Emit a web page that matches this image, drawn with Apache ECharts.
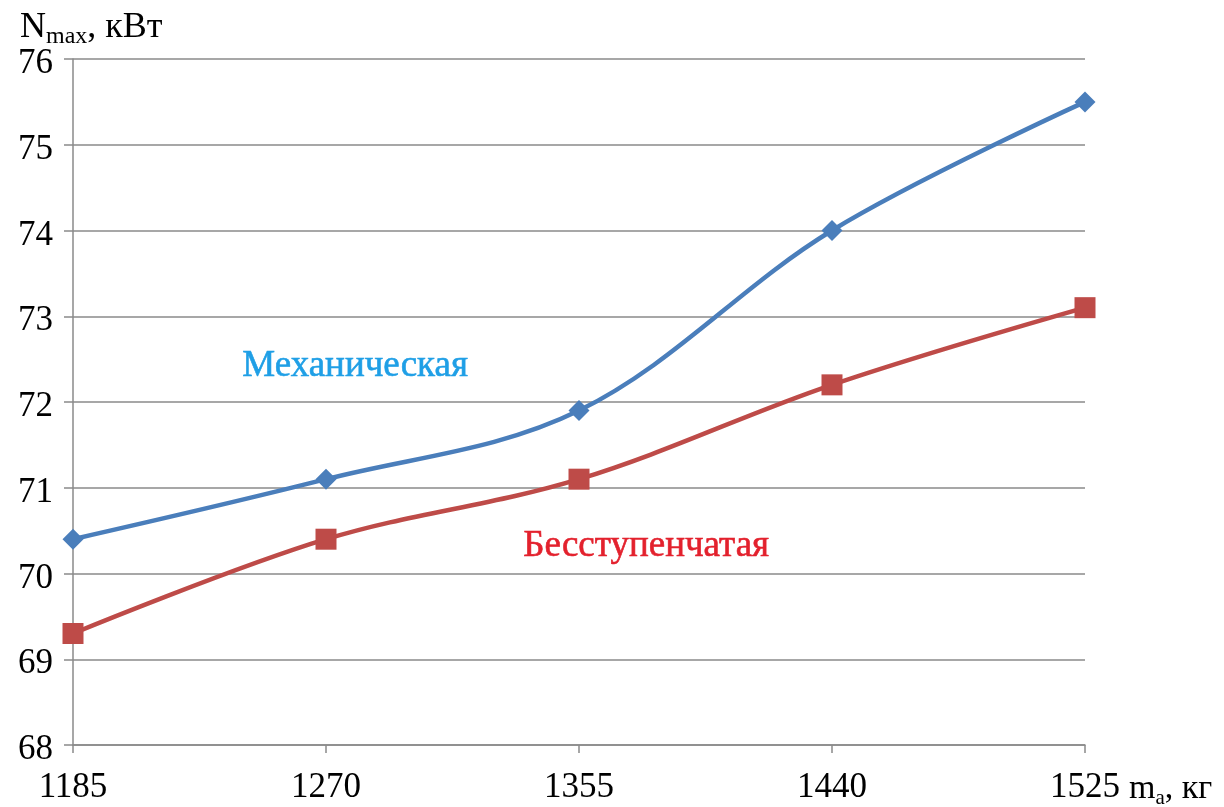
<!DOCTYPE html>
<html>
<head>
<meta charset="utf-8">
<script src="https://cdn.jsdelivr.net/npm/echarts@6/dist/echarts.min.js"></script>
<style>
  html, body { margin: 0; padding: 0; background: #ffffff; }
  #chart { width: 1224px; height: 807px; }
</style>
</head>
<body>
<div id="chart"></div>
<script>
// Vehicle mass, kg
const massLabels = ['1185', '1270', '1355', '1440', '1525'];
// Maximum power, kW
const mechanicalPower = [70.4, 71.1, 71.9, 74.0, 75.5];
const steplessPower = [69.3, 70.4, 71.1, 72.2, 73.1];
const yTicks = { min: 68, max: 76, interval: 1 };

const FONT = '"Liberation Serif", "DejaVu Serif", serif';
const GRID_GRAY = '#8a8a8a';

const chart = echarts.init(document.getElementById('chart'), null, { renderer: 'canvas' });

chart.setOption({
  backgroundColor: '#ffffff',
  animation: false,
  grid: { left: 73, right: 139, top: 59, bottom: 62, containLabel: false },
  xAxis: {
    type: 'category',
    data: massLabels,
    boundaryGap: false,
    axisLine: { lineStyle: { color: GRID_GRAY, width: 1.5 } },
    axisTick: { show: true, length: 8, alignWithLabel: true, lineStyle: { color: GRID_GRAY, width: 1.5 } },
    axisLabel: { fontFamily: FONT, fontSize: 35, color: '#000', margin: 25 },
    splitLine: { show: false }
  },
  yAxis: {
    type: 'value',
    min: yTicks.min,
    max: yTicks.max,
    interval: yTicks.interval,
    axisLine: { show: true, lineStyle: { color: GRID_GRAY, width: 1.5 } },
    axisTick: { show: true, length: 9, lineStyle: { color: GRID_GRAY, width: 1.5 } },
    axisLabel: {
      margin: 20,
      formatter: (v) => '{t|' + v + '}',
      rich: {
        t: { fontFamily: FONT, fontSize: 35, color: '#000', padding: [10, 0, 0, 0] }
      }
    },
    splitLine: { show: true, lineStyle: { color: GRID_GRAY, width: 1.5 } }
  },
  series: [
    {
      name: 'Механическая',
      type: 'line',
      data: mechanicalPower,
      smooth: 0.35,
      symbol: 'diamond',
      symbolSize: 21,
      lineStyle: { color: '#4a7ebb', width: 4.5 },
      itemStyle: { color: '#4a7ebb' },
      z: 3
    },
    {
      name: 'Бесступенчатая',
      type: 'line',
      data: steplessPower,
      smooth: 0.35,
      symbol: 'rect',
      symbolSize: 21,
      lineStyle: { color: '#be4b48', width: 4.5 },
      itemStyle: { color: '#be4b48' },
      z: 2
    }
  ],
  graphic: [
    {
      type: 'text',
      left: 20,
      top: 10,
      style: {
        text: '{n|N}{s|max}{n|, кВт}',
        rich: {
          n: { fontFamily: FONT, fontSize: 36, fill: '#000', verticalAlign: 'bottom' },
          s: { fontFamily: FONT, fontSize: 24, fill: '#000', verticalAlign: 'bottom', padding: [0, 0, -3, 0] }
        }
      }
    },
    {
      type: 'text',
      left: 1129,
      top: 772,
      style: {
        text: '{n|m}{s|a}{n|, кг}',
        rich: {
          n: { fontFamily: FONT, fontSize: 34, fill: '#000', verticalAlign: 'bottom' },
          s: { fontFamily: FONT, fontSize: 21, fill: '#000', verticalAlign: 'bottom', padding: [0, 0, -3, 0] }
        }
      }
    },
    {
      type: 'text',
      left: 242,
      top: 347,
      style: {
        text: 'Механическая',
        fontFamily: FONT,
        fontSize: 37,
        fill: '#1f9fe6',
        stroke: '#1f9fe6',
        lineWidth: 0.6
      }
    },
    {
      type: 'text',
      left: 523,
      top: 527,
      style: {
        text: 'Бесступенчатая',
        fontFamily: FONT,
        fontSize: 37,
        fill: '#e3212d',
        stroke: '#e3212d',
        lineWidth: 0.6
      }
    }
  ]
});
</script>
</body>
</html>
